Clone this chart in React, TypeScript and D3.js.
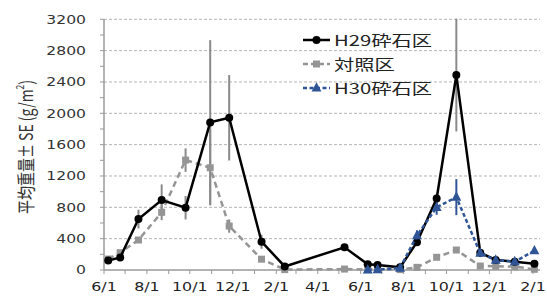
import React from "react";
import * as d3 from "d3";

const dates = [
  "2017-06-07", "2017-06-24", "2017-07-20", "2017-08-22", "2017-09-25",
  "2017-10-30", "2017-11-26", "2018-01-11", "2018-02-13", "2018-05-09",
  "2018-06-11", "2018-06-25", "2018-07-27", "2018-08-20", "2018-09-17",
  "2018-10-15", "2018-11-18", "2018-12-10", "2019-01-06", "2019-02-03",
];
const h29Values = [120, 160, 650, 893, 795, 1884, 1943, 361, 45, 290, 72, 65, 34, 355, 912, 2488, 221, 128, 106, 80];
const h29SE = [10, 15, 120, 200, 150, 1050, 545, 90, 10, 20, 10, 10, 10, 40, 60, 720, 40, 20, 15, 15];
const controlValues = [140, 221, 383, 736, 1403, 1305, 561, 138, 5, 12, 5, 5, 5, 34, 162, 255, 51, 48, 43, 9];
const controlSE = [10, 20, 30, 100, 150, 480, 85, 25, 5, 5, 3, 3, 3, 10, 20, 30, 15, 10, 10, 5];
const h30Dates = [
  "2018-06-11", "2018-06-25", "2018-07-27", "2018-08-20", "2018-09-17",
  "2018-10-15", "2018-11-18", "2018-12-10", "2019-01-06", "2019-02-03",
];
const h30Values = [0, 5, 25, 440, 800, 930, 215, 125, 106, 246];
const h30SE = [0, 0, 5, 65, 95, 230, 50, 20, 15, 20];

const yTicks = [0, 400, 800, 1200, 1600, 2000, 2400, 2800, 3200];
const xTickLabels = ["6/1", "8/1", "10/1", "12/1", "2/1", "4/1", "6/1", "8/1", "10/1", "12/1", "2/1"];
const seriesNames = ["H29砕石区", "対照区", "H30砕石区"];

const parse = d3.timeParse("%Y-%m-%d");

export default function App() {
  const W = 547, H = 296;
  const left = 104, right = 540, top = 19.3, bottom = 270;
  const x = d3.scaleTime().domain([parse("2017-06-01")!, parse("2019-02-01")!]).range([left, 533]);
  const y = d3.scaleLinear().domain([0, 3200]).range([bottom, top]);

  const monthTicks = d3.timeMonth.range(parse("2017-06-01")!, parse("2019-02-02")!);
  const labelTicks = monthTicks.filter((_, i) => i % 2 === 0);
  const minorY = d3.range(0, 3201, 200);

  const mk = (ds: string[], vs: number[], se: number[]) =>
    ds.map((d, i) => ({ x: x(parse(d)!), y: y(vs[i]), lo: y(Math.max(0, vs[i] - se[i])), hi: y(vs[i] + se[i]) }));
  const h29 = mk(dates, h29Values, h29SE);
  const ctl = mk(dates, controlValues, controlSE);
  const h30 = mk(h30Dates, h30Values, h30SE);

  const line = d3.line<{ x: number; y: number }>().x((d) => d.x).y((d) => d.y);

  const black = "#000000";
  const gray = "#959595";
  const blue = "#2f5597";
  const errGray = "#8a8a8a";

  const tri = (cx: number, cy: number, s: number) =>
    `M${cx},${cy - s * 0.65} L${cx + s * 0.55},${cy + s * 0.4} L${cx - s * 0.55},${cy + s * 0.4} Z`;

  const sx = 1.3;

  return (
    <svg width={W} height={H} style={{ position: "absolute", left: 0, top: 0, background: "#fff" }}>
      {yTicks.slice(1).map((t) => (
        <line key={"g" + t} x1={left} x2={right} y1={y(t)} y2={y(t)} stroke="#b4b4b4" strokeWidth={1} strokeDasharray="3,2" />
      ))}
      <line x1={left} x2={left} y1={top} y2={bottom} stroke="#9a9a9a" strokeWidth={1.5} />
      <line x1={left} x2={right} y1={bottom} y2={bottom} stroke="#9a9a9a" strokeWidth={1.5} />
      {minorY.map((t) => (
        <line key={"my" + t} x1={left - 4} x2={left} y1={y(t)} y2={y(t)} stroke="#9a9a9a" strokeWidth={1} />
      ))}
      {monthTicks.map((d, i) => (
        <line key={"mx" + i} x1={x(d)} x2={x(d)} y1={bottom} y2={bottom + 4} stroke="#9a9a9a" strokeWidth={1} />
      ))}
      {yTicks.map((t) => (
        <g key={"yl" + t} transform={`translate(86,${y(t) + 4.3}) scale(${sx},1)`}>
          <text textAnchor="end" fontFamily="DejaVu Sans" fontSize={12} fill="#333">{t}</text>
        </g>
      ))}
      {labelTicks.map((d, i) => (
        <g key={"xl" + i} transform={`translate(${x(d)},291) scale(1.22,1)`}>
          <text textAnchor="middle" fontFamily="DejaVu Sans" fontSize={13} fill="#222">{xTickLabels[i]}</text>
        </g>
      ))}
      <g transform={`translate(25,147) scale(1.33,1) rotate(-90)`}>
        <text textAnchor="middle" dominantBaseline="central" fontFamily="Noto Sans CJK JP" fontSize={14} fill="#333">
          平均重量± SE (g/m<tspan fontSize={8.5} dy={-5}>2</tspan><tspan dy={5}>)</tspan>
        </text>
      </g>
      {ctl.map((p, i) => (
        <line key={"ec" + i} x1={p.x} x2={p.x} y1={p.lo} y2={p.hi} stroke={errGray} strokeWidth={2} />
      ))}
      {h29.map((p, i) => (
        <line key={"eh" + i} x1={p.x} x2={p.x} y1={p.lo} y2={p.hi} stroke={errGray} strokeWidth={2} />
      ))}
      {h30.map((p, i) => (
        <line key={"eb" + i} x1={p.x} x2={p.x} y1={p.lo} y2={p.hi} stroke={blue} strokeWidth={2} />
      ))}
      <path d={line(ctl)!} fill="none" stroke={gray} strokeWidth={2.5} strokeDasharray="6,4" />
      {ctl.map((p, i) => (
        <rect key={"mc" + i} x={p.x - 3.5} y={p.y - 3.5} width={7} height={7} fill={gray} />
      ))}
      <path d={line(h29)!} fill="none" stroke={black} strokeWidth={2.5} />
      {h29.map((p, i) => (
        <circle key={"mh" + i} cx={p.x} cy={p.y} r={4} fill={black} />
      ))}
      <path d={line(h30)!} fill="none" stroke={blue} strokeWidth={2.5} strokeDasharray="4,2.5" />
      {h30.map((p, i) => (
        <path key={"mb" + i} d={tri(p.x, p.y, 9)} fill={blue} />
      ))}
      {[0, 1, 2].map((i) => {
        const ly = [40, 64, 88][i];
        const col = [black, gray, blue][i];
        return (
          <g key={"lg" + i}>
            <line x1={303} x2={330} y1={ly} y2={ly} stroke={col} strokeWidth={2.5} strokeDasharray={i === 0 ? undefined : i === 1 ? "5,3" : "4,2.5"} />
            {i === 0 && <circle cx={316.5} cy={ly} r={4} fill={col} />}
            {i === 1 && <rect x={313} y={ly - 3.5} width={7} height={7} fill={col} />}
            {i === 2 && <path d={tri(316.5, ly, 9)} fill={col} />}
            <g transform={`translate(334,${ly + 5.5}) scale(1.4,1)`}>
              <text fontFamily="Noto Sans CJK JP" fontSize={14.5} fill="#222">{seriesNames[i]}</text>
            </g>
          </g>
        );
      })}
    </svg>
  );
}
